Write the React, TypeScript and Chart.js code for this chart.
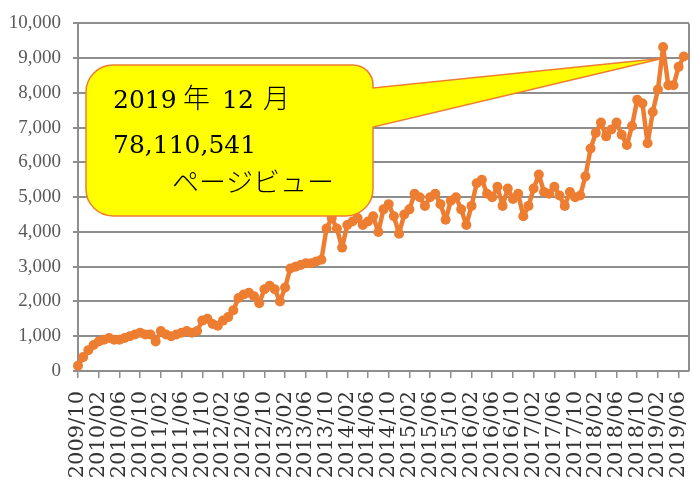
import React, { useEffect, useRef } from "react";
import { Chart, registerables } from "chart.js";

Chart.register(...registerables);

// Monthly categories 2009/10 .. 2019/08 (last slot has no data)
const categories: string[] = [];
for (let k = 0; k < 119; k++) {
  const m = 9 + k;
  const yr = 2009 + Math.floor(m / 12);
  const mo = (m % 12) + 1;
  categories.push(`${yr}/${String(mo).padStart(2, "0")}`);
}

// Page views as drawn on the chart
const pageViews: (number | null)[] = [
  150, 400, 600, 750, 850, 900, 950, 900, 900, 950,
  1000, 1050, 1100, 1050, 1050, 850, 1150, 1050, 1000, 1050,
  1100, 1150, 1100, 1150, 1450, 1500, 1350, 1300, 1450, 1550,
  1750, 2100, 2200, 2250, 2150, 1950, 2350, 2450, 2350, 2000,
  2400, 2950, 3000, 3050, 3100, 3100, 3150, 3200, 4100, 4400,
  4100, 3550, 4200, 4300, 4400, 4200, 4300, 4450, 4000, 4650,
  4800, 4450, 3950, 4500, 4650, 5100, 5000, 4750, 5000, 5100,
  4800, 4350, 4900, 5000, 4650, 4200, 4750, 5400, 5500, 5100,
  5000, 5300, 4750, 5250, 4950, 5100, 4450, 4750, 5250, 5650,
  5150, 5100, 5300, 5050, 4750, 5150, 5000, 5050, 5600, 6400,
  6850, 7150, 6750, 6950, 7150, 6800, 6500, 7050, 7800, 7700,
  6550, 7450, 8100, 9320, 8220, 8220, 8750, 9050, null,
];

const yMin = 0;
const yMax = 10000;
const yStep = 1000;
const labelEvery = 4;

// Callout
const calloutLines = ["2019 年 12 月", "78,110,541", "ページビュー"];
const calloutIndex = 113;
const calloutValue = 9000;

const ORANGE = "#ED7D31";
const GRID = "#8E8E8E";

const calloutPlugin = {
  id: "callout",
  afterDatasetsDraw(chart: any) {
    const { ctx, scales } = chart;
    const tipX = scales.x.getPixelForValue(calloutIndex);
    const tipY = scales.y.getPixelForValue(calloutValue);
    const L = 86, T = 65, R = 373, B = 216;
    const r = 27, rTR = 20;
    const tailTop = 88, tailBot = 127;
    ctx.save();
    ctx.beginPath();
    ctx.moveTo(L + r, T);
    ctx.lineTo(R - rTR, T);
    ctx.arcTo(R, T, R, T + rTR, rTR);
    ctx.lineTo(R, tailTop);
    ctx.lineTo(tipX, tipY);
    ctx.lineTo(R, tailBot);
    ctx.lineTo(R, B - r);
    ctx.arcTo(R, B, R - r, B, r);
    ctx.lineTo(L + r, B);
    ctx.arcTo(L, B, L, B - r, r);
    ctx.lineTo(L, T + r);
    ctx.arcTo(L, T, L + r, T, r);
    ctx.closePath();
    ctx.fillStyle = "#FFFF00";
    ctx.fill();
    ctx.lineWidth = 1.5;
    ctx.strokeStyle = ORANGE;
    ctx.stroke();

    ctx.fillStyle = "#000000";
    ctx.textBaseline = "alphabetic";
    ctx.textAlign = "left";
    const latin = '25px "DejaVu Serif", "Noto Sans CJK JP"';
    const cjk = '300 27px "Noto Sans CJK JP"';
    const parts = calloutLines[0].split(" ");
    const xs = [113, 183, 222, 263];
    parts.forEach((p, i) => {
      ctx.font = /[0-9]/.test(p) ? latin : cjk;
      ctx.fillText(p, xs[i], 108);
    });
    ctx.font = latin;
    ctx.fillText(calloutLines[1], 113, 153);
    ctx.font = cjk;
    ctx.fillText(calloutLines[2], 172, 192);
    ctx.restore();
  },
};

const borderPlugin = {
  id: "rightBorder",
  beforeDatasetsDraw(chart: any) {
    const { ctx, chartArea } = chart;
    ctx.save();
    ctx.strokeStyle = GRID;
    ctx.lineWidth = 2;
    ctx.beginPath();
    ctx.moveTo(chartArea.right, chartArea.top);
    ctx.lineTo(chartArea.right, chartArea.bottom);
    ctx.stroke();
    ctx.restore();
  },
};

export default function App() {
  const ref = useRef<HTMLCanvasElement | null>(null);
  useEffect(() => {
    if (!ref.current) return;
    const chart = new Chart(ref.current, {
      type: "line",
      data: {
        labels: categories,
        datasets: [
          {
            data: pageViews,
            borderColor: ORANGE,
            backgroundColor: ORANGE,
            borderWidth: 4.5,
            borderJoinStyle: "round",
            borderCapStyle: "round",
            pointRadius: 5,
            pointBorderWidth: 0,
            pointBackgroundColor: ORANGE,
            tension: 0,
            spanGaps: false,
          },
        ],
      },
      options: {
        animation: false,
        responsive: true,
        maintainAspectRatio: false,
        layout: { padding: { top: 23, right: 1, left: 0, bottom: 0 } },
        plugins: {
          legend: { display: false },
          tooltip: { enabled: false },
        },
        scales: {
          x: {
            type: "category",
            offset: false,
            afterFit: (s: any) => {
              s.height = 116;
              s.paddingRight = 0;
              s.paddingLeft = 0;
            },
            grid: {
              display: true,
              drawOnChartArea: false,
              drawTicks: true,
              tickLength: 7,
              lineWidth: 1.5,
              color: (c: any) => (c.index % labelEvery === 0 ? GRID : "rgba(0,0,0,0)"),
              tickColor: (c: any) => (c.index % labelEvery === 0 ? GRID : "rgba(0,0,0,0)"),
            },
            border: { display: true, color: GRID, width: 2 },
            ticks: {
              autoSkip: false,
              minRotation: 90,
              maxRotation: 90,
              padding: 13,
              color: "#333333",
              font: { family: '"DejaVu Serif"', size: 21 },
              callback: (_v: any, i: number) => (i % labelEvery === 0 ? categories[i] : ""),
            },
          },
          y: {
            min: yMin,
            max: yMax,
            afterFit: (s: any) => {
              s.width = 78;
            },
            grid: {
              color: GRID,
              lineWidth: 2,
              tickLength: 5,
              tickColor: GRID,
            },
            border: { display: true, color: GRID, width: 2 },
            ticks: {
              stepSize: yStep,
              padding: 12,
              color: "#595959",
              font: { family: '"Liberation Serif"', size: 19 },
              callback: (v: any) => Number(v).toLocaleString("en-US"),
            },
          },
        },
      },
      plugins: [borderPlugin, calloutPlugin],
    });
    return () => chart.destroy();
  }, []);
  return (
    <div style={{ position: "fixed", left: 0, top: 0, width: 694, height: 487, background: "#fff" }}>
      <canvas ref={ref} />
    </div>
  );
}
